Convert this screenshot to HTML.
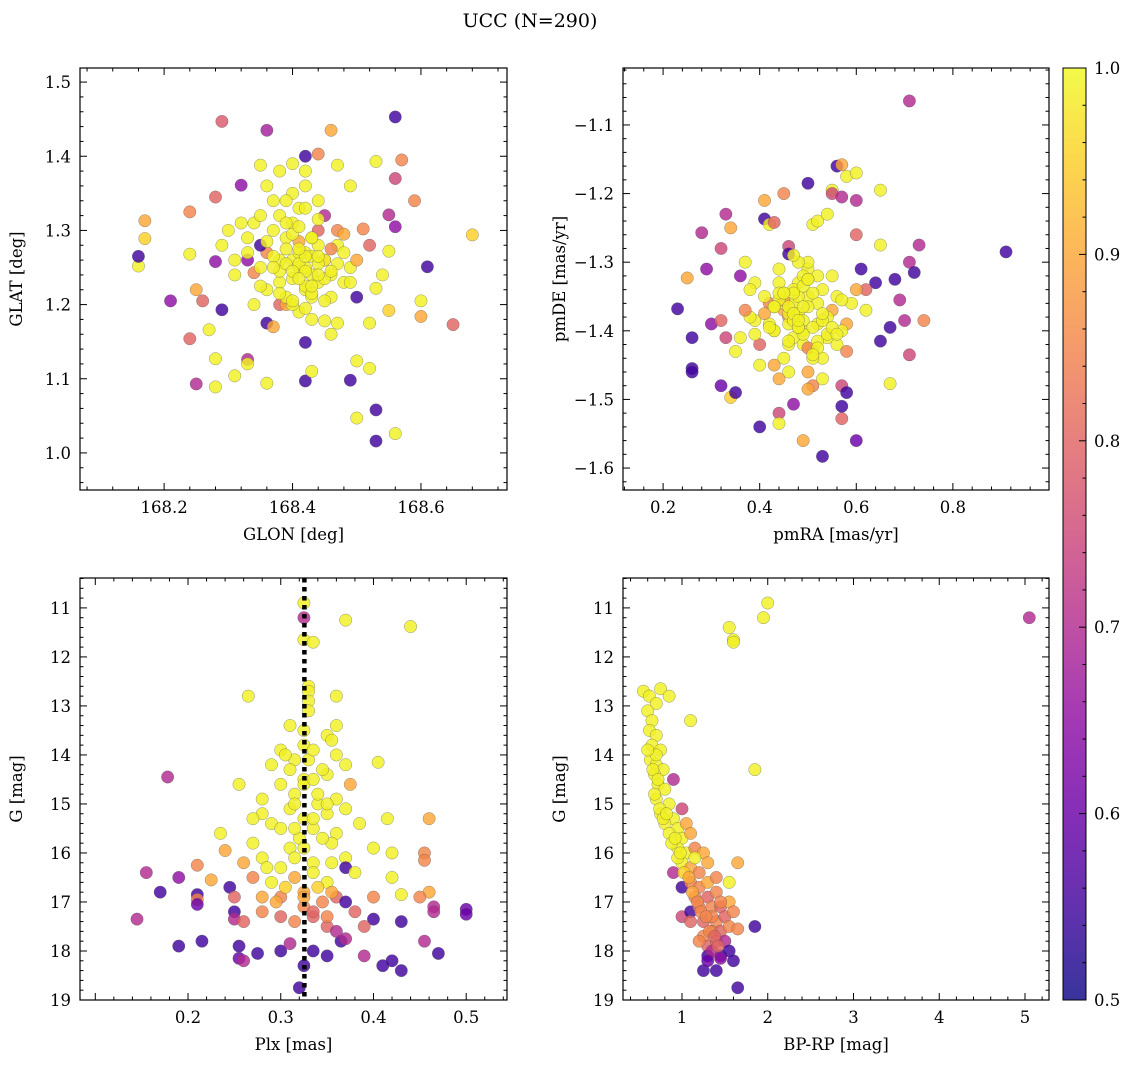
<!DOCTYPE html>
<html><head><meta charset="utf-8"><style>
body{margin:0;background:#fff;}
svg text{font-family:"DejaVu Serif","Liberation Serif",serif;fill:#000;}
</style></head><body>
<svg id="fig" width="1136" height="1067" xmlns="http://www.w3.org/2000/svg">
<defs>
<linearGradient id="plasma" x1="0" y1="1" x2="0" y2="0">
<stop offset="0" stop-color="#0d0887"/><stop offset="0.1" stop-color="#41049d"/><stop offset="0.2" stop-color="#6a00a8"/>
<stop offset="0.3" stop-color="#8f0da4"/><stop offset="0.4" stop-color="#b12a90"/><stop offset="0.5" stop-color="#cc4778"/>
<stop offset="0.6" stop-color="#e16462"/><stop offset="0.7" stop-color="#f2844b"/><stop offset="0.8" stop-color="#fca636"/>
<stop offset="0.9" stop-color="#fcce25"/><stop offset="1" stop-color="#f0f921"/>
</linearGradient>
</defs>
<text x="530" y="27" font-size="19" text-anchor="middle">UCC (N=290)</text>
</svg>
<script>
// ---- data: top-left GLON/GLAT/prob
const tlX=[168.17,168.17,168.16,168.16,168.21,168.24,168.25,168.24,168.24,168.25,168.26,168.28,168.29,168.28,168.29,168.28,168.28,168.27,168.31,168.33,168.33,168.36,168.32,168.35,168.36,168.36,168.42,168.42,168.43,168.42,168.46,168.44,168.47,168.49,168.53,168.56,168.56,168.57,168.59,168.61,168.60,168.60,168.65,168.68,168.53,168.53,168.56,168.50,168.50,168.49,168.52,168.55,168.54,168.55,168.52,168.56,168.55,168.52,168.50,168.53,168.49,168.51,168.47,168.45,168.37,168.38,168.34,168.34,
168.40,168.41,168.42,168.43,168.44,168.45,168.39,168.38,168.37,168.36,168.35,168.40,168.42,168.44,168.46,168.47,168.43,168.41,168.39,168.38,168.36,168.33,168.32,168.31,168.45,168.46,168.48,168.40,168.42,168.41,168.43,168.39,168.37,168.35,168.44,168.42,168.40,168.38,168.47,168.48,168.34,168.33,168.30,168.29,168.41,168.43,168.45,168.39,168.36,168.50,168.44,168.42,168.38,168.40,168.46,168.35,
168.41,168.42,168.43,168.40,168.39,168.44,168.41,168.42,168.43,168.40,168.38,168.37,168.45,168.46,168.41,168.42,168.39,168.44,168.43,168.40,168.36,168.35,168.47,168.48,168.42,168.41,168.38,168.45,168.44,168.39,168.33,168.31,168.49,168.42,168.40,168.43,168.37,168.46,168.41,168.44];
const tlY=[1.313,1.289,1.252,1.265,1.205,1.154,1.093,1.325,1.268,1.22,1.205,1.345,1.447,1.258,1.193,1.127,1.089,1.166,1.104,1.126,1.12,1.435,1.361,1.388,1.094,1.175,1.149,1.097,1.11,1.40,1.435,1.403,1.388,1.36,1.393,1.453,1.37,1.395,1.34,1.251,1.205,1.184,1.173,1.294,1.058,1.016,1.026,1.047,1.124,1.098,1.114,1.192,1.24,1.272,1.28,1.305,1.321,1.175,1.21,1.222,1.25,1.302,1.175,1.178,1.17,1.2,1.243,1.2,
1.26,1.25,1.27,1.24,1.28,1.26,1.29,1.23,1.30,1.27,1.25,1.31,1.22,1.30,1.24,1.28,1.21,1.33,1.20,1.32,1.22,1.29,1.31,1.24,1.32,1.21,1.27,1.35,1.36,1.19,1.18,1.34,1.34,1.28,1.23,1.25,1.20,1.26,1.30,1.23,1.31,1.26,1.30,1.28,1.27,1.29,1.26,1.21,1.36,1.26,1.34,1.38,1.38,1.39,1.16,1.32,
1.255,1.245,1.265,1.235,1.275,1.255,1.285,1.225,1.215,1.295,1.245,1.265,1.235,1.275,1.305,1.195,1.255,1.315,1.225,1.245,1.285,1.225,1.255,1.295,1.265,1.275,1.215,1.205,1.24,1.31,1.27,1.26,1.23,1.33,1.205,1.29,1.25,1.245,1.235,1.265];
const tlP=[0.9,0.95,0.99,0.55,0.65,0.8,0.7,0.85,0.99,0.9,0.8,0.8,0.78,0.65,0.55,0.99,0.99,0.99,0.99,0.7,0.99,0.68,0.65,0.99,0.99,0.55,0.55,0.55,0.99,0.55,0.9,0.85,0.99,0.99,0.99,0.55,0.75,0.85,0.85,0.55,0.99,0.9,0.8,0.95,0.55,0.55,0.99,0.99,0.99,0.55,0.99,0.95,0.99,0.99,0.8,0.65,0.7,0.99,0.55,0.99,0.99,0.85,0.99,0.99,0.9,0.8,0.85,0.99,
0.99,0.99,0.99,0.99,0.99,0.9,0.99,0.99,0.99,0.85,0.99,0.99,0.99,0.8,0.99,0.99,0.99,0.99,0.9,0.99,0.99,0.99,0.99,0.99,0.7,0.99,0.99,0.99,0.99,0.99,0.99,0.99,0.99,0.55,0.99,0.99,0.99,0.99,0.85,0.99,0.99,0.65,0.99,0.99,0.99,0.99,0.99,0.99,0.99,0.9,0.99,0.99,0.99,0.99,0.99,0.99,
0.99,0.99,0.99,0.99,0.99,0.99,0.9,0.99,0.99,0.99,0.99,0.99,0.99,0.85,0.99,0.99,0.99,0.99,0.99,0.99,0.99,0.99,0.99,0.9,0.99,0.99,0.99,0.99,0.99,0.99,0.99,0.99,0.99,0.99,0.99,0.99,0.99,0.99,0.99,0.99];
// ---- top-right pmRA/pmDE
const trX=[0.23,0.26,0.26,0.26,0.25,0.28,0.29,0.30,0.32,0.32,0.33,0.32,0.33,0.34,0.35,0.34,0.36,0.37,0.39,0.40,0.41,0.41,0.42,0.43,0.45,0.46,0.46,0.44,0.44,0.47,0.49,0.50,0.51,0.52,0.54,0.55,0.56,0.57,0.58,0.60,0.60,0.55,0.57,0.60,0.61,0.65,0.65,0.64,0.62,0.69,0.68,0.71,0.72,0.73,0.71,0.91,0.74,0.70,0.71,0.67,0.67,0.65,0.60,0.57,0.57,0.57,0.58,0.53,0.53,0.51,0.50,0.46,0.44,
0.48,0.47,0.49,0.50,0.46,0.45,0.44,0.43,0.42,0.52,0.53,0.54,0.55,0.51,0.50,0.48,0.47,0.46,0.45,0.49,0.52,0.56,0.58,0.41,0.40,0.39,0.38,0.43,0.44,0.50,0.53,0.55,0.57,0.59,0.48,0.46,0.51,0.42,0.37,0.36,0.35,0.47,0.49,0.54,0.56,0.60,0.62,0.45,0.43,0.52,0.50,0.48,0.40,0.38,0.58,
0.47,0.48,0.49,0.50,0.51,0.46,0.45,0.47,0.49,0.52,0.44,0.43,0.48,0.50,0.53,0.46,0.47,0.49,0.51,0.54,0.42,0.41,0.45,0.48,0.50,0.52,0.55,0.44,0.46,0.49,0.39,0.57,0.47,0.51,0.43,0.53,0.48,0.45,0.50,0.56];
const trY=[-1.368,-1.41,-1.455,-1.46,-1.323,-1.257,-1.31,-1.39,-1.48,-1.28,-1.23,-1.385,-1.41,-1.497,-1.49,-1.25,-1.32,-1.3,-1.385,-1.54,-1.21,-1.237,-1.245,-1.242,-1.2,-1.277,-1.288,-1.52,-1.535,-1.507,-1.56,-1.185,-1.245,-1.24,-1.23,-1.195,-1.16,-1.158,-1.175,-1.17,-1.21,-1.2,-1.205,-1.26,-1.31,-1.195,-1.275,-1.33,-1.34,-1.355,-1.325,-1.3,-1.315,-1.275,-1.065,-1.285,-1.385,-1.385,-1.435,-1.395,-1.477,-1.415,-1.56,-1.528,-1.48,-1.51,-1.49,-1.583,-1.47,-1.48,-1.485,-1.46,-1.47,
-1.38,-1.36,-1.40,-1.35,-1.42,-1.37,-1.33,-1.40,-1.36,-1.39,-1.34,-1.41,-1.37,-1.43,-1.31,-1.33,-1.41,-1.38,-1.44,-1.42,-1.36,-1.35,-1.39,-1.35,-1.42,-1.33,-1.38,-1.45,-1.31,-1.30,-1.44,-1.32,-1.40,-1.36,-1.35,-1.39,-1.44,-1.39,-1.37,-1.41,-1.43,-1.34,-1.32,-1.38,-1.42,-1.34,-1.37,-1.36,-1.40,-1.32,-1.46,-1.30,-1.45,-1.34,-1.43,-1.29,
-1.375,-1.385,-1.365,-1.395,-1.375,-1.355,-1.385,-1.405,-1.415,-1.355,-1.365,-1.395,-1.425,-1.385,-1.365,-1.345,-1.335,-1.345,-1.405,-1.395,-1.375,-1.345,-1.395,-1.325,-1.425,-1.395,-1.345,-1.415,-1.365,-1.405,-1.355,-1.375,-1.435,-1.365,-1.375,-1.385,-1.345,-1.325,-1.405,-1.395];
const trP=[0.55,0.55,0.55,0.55,0.9,0.7,0.65,0.65,0.6,0.75,0.7,0.8,0.75,0.95,0.55,0.9,0.65,0.99,0.99,0.55,0.9,0.55,0.99,0.8,0.85,0.75,0.55,0.75,0.99,0.65,0.9,0.55,0.99,0.99,0.99,0.99,0.55,0.9,0.99,0.99,0.7,0.75,0.7,0.8,0.55,0.99,0.99,0.55,0.8,0.7,0.55,0.7,0.55,0.7,0.7,0.55,0.85,0.7,0.75,0.55,0.99,0.55,0.6,0.8,0.75,0.55,0.55,0.55,0.99,0.85,0.9,0.99,0.9,
0.99,0.99,0.99,0.99,0.99,0.9,0.99,0.99,0.85,0.99,0.99,0.99,0.9,0.99,0.99,0.99,0.99,0.85,0.99,0.99,0.99,0.99,0.9,0.99,0.8,0.99,0.99,0.9,0.99,0.99,0.99,0.99,0.99,0.99,0.99,0.99,0.99,0.99,0.85,0.99,0.99,0.99,0.99,0.99,0.99,0.9,0.99,0.99,0.99,0.99,0.9,0.99,0.99,0.99,0.85,
0.99,0.99,0.99,0.99,0.99,0.99,0.9,0.99,0.99,0.99,0.99,0.99,0.99,0.85,0.99,0.99,0.99,0.99,0.99,0.99,0.99,0.9,0.99,0.99,0.99,0.99,0.99,0.99,0.99,0.99,0.99,0.99,0.99,0.99,0.99,0.99,0.99,0.99,0.99,0.99];
// ---- bottom-left Plx/G
const blX=[0.325,0.325,0.37,0.44,0.325,0.335,0.33,0.33,0.33,0.36,0.265,0.33,0.31,0.325,0.36,0.35,0.30,0.325,0.29,0.315,0.33,0.36,0.37,0.405,0.31,0.35,0.375,0.255,0.3,0.325,0.178,0.28,0.315,0.36,0.31,0.34,0.28,0.29,0.27,0.325,0.35,0.37,0.385,0.415,0.46,0.235,0.3,0.335,0.36,0.27,0.31,0.32,0.355,0.24,0.21,0.155,0.19,0.26,0.28,0.3,0.335,0.37,0.4,0.42,0.455,0.455,0.37,0.27,0.29,0.315,0.35,0.38,0.42,0.17,0.225,0.245,0.21,0.21,0.21,0.25,0.28,0.3,0.325,0.36,0.37,0.4,0.43,0.46,0.45,0.145,0.19,0.215,0.25,0.25,0.26,0.28,0.3,0.315,0.335,0.35,0.38,0.40,0.43,0.465,0.465,0.5,0.5,0.255,0.255,0.26,0.275,0.3,0.31,0.325,0.32,0.335,0.35,0.365,0.37,0.39,0.41,0.42,0.43,0.455,0.47,0.39,0.36,
0.335,0.345,0.325,0.34,0.35,0.315,0.335,0.345,0.325,0.355,0.315,0.335,0.34,0.305,0.355,0.325,0.345,0.295,0.335,0.35,0.285,0.315,0.335,0.305,0.355,0.325];
const blY=[10.9,11.2,11.25,11.38,11.65,11.7,12.6,12.7,12.9,12.8,12.8,13.1,13.4,13.5,13.4,13.6,13.9,13.8,14.2,14.1,14.1,14.0,14.2,14.15,14.3,14.4,14.6,14.6,14.6,14.5,14.45,14.9,14.8,14.9,15.1,15.0,15.2,15.4,15.3,15.3,15.2,15.1,15.4,15.3,15.3,15.6,15.5,15.5,15.6,15.8,15.9,15.7,15.8,15.95,16.25,16.4,16.5,16.2,16.1,16.3,16.2,16.1,15.9,16.0,16.0,16.15,16.3,16.5,16.6,16.5,16.6,16.4,16.5,16.8,16.55,16.7,16.85,16.95,17.05,16.9,16.9,16.9,16.8,16.9,17.0,16.9,16.85,16.8,16.9,17.35,17.9,17.8,17.2,17.35,17.4,17.2,17.3,17.4,17.3,17.5,17.2,17.35,17.4,17.1,17.2,17.15,17.25,17.9,18.15,18.2,18.05,18.0,17.85,18.3,18.75,18.0,18.1,17.8,17.75,18.1,18.3,18.2,18.4,17.8,18.05,17.5,17.6,
13.9,14.3,14.6,14.8,15.0,15.0,15.3,15.7,15.9,16.2,16.1,16.4,16.7,16.7,16.8,17.1,17.0,17.0,17.2,17.3,16.3,15.5,14.5,14.0,13.7,16.9];
const blP=[0.99,0.7,0.99,0.99,0.99,0.99,0.99,0.99,0.99,0.99,0.99,0.99,0.99,0.99,0.99,0.99,0.99,0.99,0.99,0.99,0.99,0.99,0.99,0.99,0.99,0.99,0.9,0.99,0.99,0.99,0.7,0.99,0.99,0.99,0.99,0.99,0.99,0.99,0.99,0.99,0.99,0.99,0.99,0.99,0.9,0.99,0.99,0.99,0.99,0.99,0.99,0.99,0.99,0.9,0.85,0.7,0.65,0.9,0.99,0.99,0.99,0.99,0.99,0.99,0.85,0.85,0.55,0.85,0.99,0.9,0.99,0.99,0.99,0.55,0.9,0.55,0.55,0.85,0.6,0.8,0.9,0.85,0.9,0.8,0.55,0.85,0.99,0.9,0.85,0.7,0.55,0.55,0.55,0.7,0.8,0.85,0.8,0.85,0.8,0.8,0.8,0.55,0.55,0.7,0.7,0.6,0.6,0.55,0.6,0.7,0.55,0.55,0.7,0.55,0.55,0.55,0.55,0.55,0.7,0.7,0.55,0.55,0.55,0.7,0.55,0.8,0.7,
0.99,0.99,0.99,0.99,0.99,0.99,0.99,0.99,0.99,0.99,0.99,0.99,0.95,0.95,0.9,0.85,0.85,0.9,0.8,0.85,0.99,0.99,0.99,0.99,0.99,0.9];
// ---- bottom-right BP-RP/G
const brX=[0.55,0.62,0.75,0.7,0.85,0.6,0.65,1.1,0.62,0.7,0.65,0.75,0.63,0.7,0.78,0.68,0.9,0.72,0.8,0.7,0.85,0.75,0.9,1.0,0.8,0.95,1.05,0.85,1.0,1.1,0.95,1.05,1.15,1.25,1.0,1.1,0.9,1.2,1.3,1.0,1.1,1.2,1.3,1.4,1.15,1.3,1.4,1.0,1.1,1.2,1.35,1.45,1.55,1.1,1.25,1.4,1.5,1.6,1.25,1.35,1.45,1.55,1.3,1.4,1.5,1.65,1.3,1.45,1.55,1.6,1.4,1.35,1.45,1.65,1.85,1.25,1.65,1.55,1.85,1.6,1.6,1.55,1.95,2.0,5.05,1.45,1.35,1.15,0.95,0.7,0.6,
0.66,0.72,0.68,0.74,0.78,0.82,0.88,0.92,0.98,1.02,1.08,1.12,1.18,1.22,1.28,1.32,1.38,1.42,1.2,1.3];
const brY=[12.7,12.8,12.65,12.95,12.8,13.1,13.3,13.3,13.5,13.6,13.8,13.9,14.1,14.2,14.3,14.4,14.5,14.6,14.7,14.9,15.0,15.2,15.3,15.1,15.4,15.5,15.4,15.6,15.7,15.6,15.9,16.0,15.9,16.0,16.2,16.3,16.4,16.4,16.2,16.7,16.6,16.7,16.6,16.5,16.9,16.9,16.8,17.3,17.2,17.1,17.1,17.1,17.0,17.4,17.4,17.4,17.3,17.2,17.7,17.6,17.6,17.5,17.9,17.8,17.8,17.55,18.1,18.1,18.0,18.2,18.4,18.0,18.15,18.75,17.5,18.4,16.2,16.6,14.3,11.65,11.7,11.4,11.2,10.9,11.2,17.0,17.3,16.1,16.1,14.0,13.9,
14.3,14.5,14.8,15.1,15.3,15.2,15.8,15.7,16.0,16.4,16.5,16.8,17.0,17.2,17.3,17.6,17.7,17.9,17.8,18.2];
const brP=[0.99,0.99,0.99,0.99,0.99,0.99,0.99,0.99,0.99,0.99,0.99,0.99,0.99,0.99,0.99,0.99,0.7,0.99,0.99,0.99,0.99,0.99,0.99,0.75,0.99,0.99,0.9,0.99,0.99,0.9,0.99,0.99,0.85,0.9,0.99,0.9,0.7,0.85,0.9,0.55,0.85,0.85,0.9,0.85,0.85,0.8,0.85,0.75,0.55,0.85,0.85,0.8,0.9,0.8,0.8,0.85,0.8,0.85,0.85,0.85,0.8,0.85,0.8,0.8,0.7,0.85,0.55,0.55,0.55,0.55,0.55,0.7,0.65,0.55,0.55,0.55,0.9,0.99,0.99,0.99,0.99,0.99,0.99,0.99,0.7,0.85,0.85,0.99,0.99,0.99,0.99,
0.99,0.99,0.99,0.99,0.99,0.99,0.99,0.99,0.99,0.95,0.9,0.9,0.85,0.85,0.85,0.85,0.8,0.8,0.85,0.6];

const NS="http://www.w3.org/2000/svg";
const svg=document.getElementById('fig');
function mk(tag,attrs,parent){const e=document.createElementNS(NS,tag);for(const k in attrs)e.setAttribute(k,attrs[k]);(parent||svg).appendChild(e);return e;}
const stops=[[13,8,135],[65,4,157],[106,0,168],[143,13,164],[177,42,144],[204,71,120],[225,100,98],[242,132,75],[252,166,54],[252,206,37],[240,249,33]];
function plasma(p){let t=Math.max(0,Math.min(1,(p-0.5)/0.5))*10;const i=Math.min(9,Math.floor(t)),f=t-i;const a=stops[i],b=stops[i+1];return 'rgb('+a.map((v,k)=>Math.round(v+(b[k]-v)*f)).join(',')+')';}

function panel(name,box,xr,yr,xMaj,xMin,yMaj,yMin,xs,ys,ps,xlabel,ylabel,xfmt,yfmt,yInv,xLabMin){
  const [L,T,R,B]=box;
  const sx=v=>L+(v-xr[0])/(xr[1]-xr[0])*(R-L);
  const sy=yInv?(v=>T+(v-yr[0])/(yr[1]-yr[0])*(B-T)):(v=>B-(v-yr[0])/(yr[1]-yr[0])*(B-T));
  const g=mk('g',{});
  
  
  const clip=mk('clipPath',{id:name+'-clip'},g);mk('rect',{x:L,y:T,width:R-L,height:B-T},clip);
  const pts=mk('g',{'clip-path':'url(#'+name+'-clip)'},g);
  for(let i=0;i<xs.length;i++){
    const c=mk('circle',{cx:sx(xs[i]),cy:sy(ys[i]),r:6.2,fill:plasma(ps[i]),'fill-opacity':0.82,stroke:'#555','stroke-opacity':0.6,'stroke-width':0.5},pts);
    
    
  }
  const fr=mk('rect',{x:L,y:T,width:R-L,height:B-T,fill:'none',stroke:'#000','stroke-width':1.2},g);
  
  
  const eps=1e-9;
  for(let v=Math.ceil(xr[0]/xMin-eps)*xMin;v<=xr[1]+eps;v+=xMin){
    const x=sx(v);const maj=Math.abs(v/xMaj-Math.round(v/xMaj))<1e-6;const l=maj?7:3.5;
    mk('line',{x1:x,x2:x,y1:B,y2:B-l,stroke:'#000','stroke-width':1},g);
    mk('line',{x1:x,x2:x,y1:T,y2:T+l,stroke:'#000','stroke-width':1},g);
    if(maj && (xLabMin===undefined || v>=xLabMin-1e-6)){const t=mk('text',{x:x,y:B+23,'font-size':16.5,'text-anchor':'middle'},g);t.textContent=xfmt(v);
      
      }
  }
  for(let v=Math.ceil(Math.min(yr[0],yr[1])/yMin-eps)*yMin;v<=Math.max(yr[0],yr[1])+eps;v+=yMin){
    const y=sy(v);const maj=Math.abs(v/yMaj-Math.round(v/yMaj))<1e-6;const l=maj?7:3.5;
    mk('line',{x1:L,x2:L+l,y1:y,y2:y,stroke:'#000','stroke-width':1},g);
    mk('line',{x1:R,x2:R-l,y1:y,y2:y,stroke:'#000','stroke-width':1},g);
    if(maj){const t=mk('text',{x:L-9,y:y+6,'font-size':16.5,'text-anchor':'end'},g);t.textContent=yfmt(v);
      
      }
  }
  const xl=mk('text',{x:(L+R)/2,y:B+50,'font-size':16.5,'text-anchor':'middle'},g);xl.textContent=xlabel;
  
  
  const yx=L-58;const yl=mk('text',{x:yx,y:(T+B)/2,'font-size':16.5,'text-anchor':'middle',transform:'rotate(-90 '+yx+' '+(T+B)/2+')'},g);yl.textContent=ylabel;
  
  
  return {sx,sy,g};
}
const mf=v=>(v<0?'\u2212':'')+Math.abs(v).toFixed(1);
panel('glon-glat',[80,68,507,490],[168.069,168.734],[0.950,1.519],0.2,0.04,0.1,0.02,tlX,tlY,tlP,'GLON [deg]','GLAT [deg]',v=>v.toFixed(1),v=>v.toFixed(1),false);
panel('pm',[623,68,1049,490],[0.117,0.999],[-1.632,-1.017],0.2,0.04,0.1,0.02,trX,trY,trP,'pmRA [mas/yr]','pmDE [mas/yr]',v=>v.toFixed(1),mf,false);
const bl=panel('plx-g',[80,578,507,1000],[0.0835,0.544],[10.39,19],0.1,0.02,1,0.2,blX,blY,blP,'Plx [mas]','G [mag]',v=>v.toFixed(1),v=>v.toFixed(0),true,0.2);
panel('cmd',[623,578,1049,1000],[0.312,5.28],[10.39,19],1,0.2,1,0.2,brX,brY,brP,'BP-RP [mag]','G [mag]',v=>v.toFixed(0),v=>v.toFixed(0),true);
// median parallax line
const plxMedian=0.3255;
const ml=mk('line',{x1:bl.sx(plxMedian),x2:bl.sx(plxMedian),y1:578,y2:1000,stroke:'#000','stroke-width':4.5,'stroke-dasharray':'4.5 4.5'},bl.g);


// colorbar
const cb=mk('g',{});


mk('rect',{x:1063,y:68,width:23,height:932,fill:'url(#plasma)','fill-opacity':0.82},cb);
mk('rect',{x:1063,y:68,width:23,height:932,fill:'none',stroke:'#000','stroke-width':1},cb);
const cbTicks=[0.5,0.6,0.7,0.8,0.9,1.0];
const cy=v=>1000-(v-0.5)/0.5*932;
for(let v=0.5;v<=1.0001;v+=0.02){const y=cy(v);const maj=Math.abs(v*10-Math.round(v*10))<1e-6;mk('line',{x1:1086,x2:1086-(maj?7:3.5),y1:y,y2:y,stroke:'#000'},cb);}
cbTicks.forEach(v=>{const t=mk('text',{x:1094,y:cy(v)+6,'font-size':16.5},cb);t.textContent=v.toFixed(1);
  
  });
</script>
</body></html>
